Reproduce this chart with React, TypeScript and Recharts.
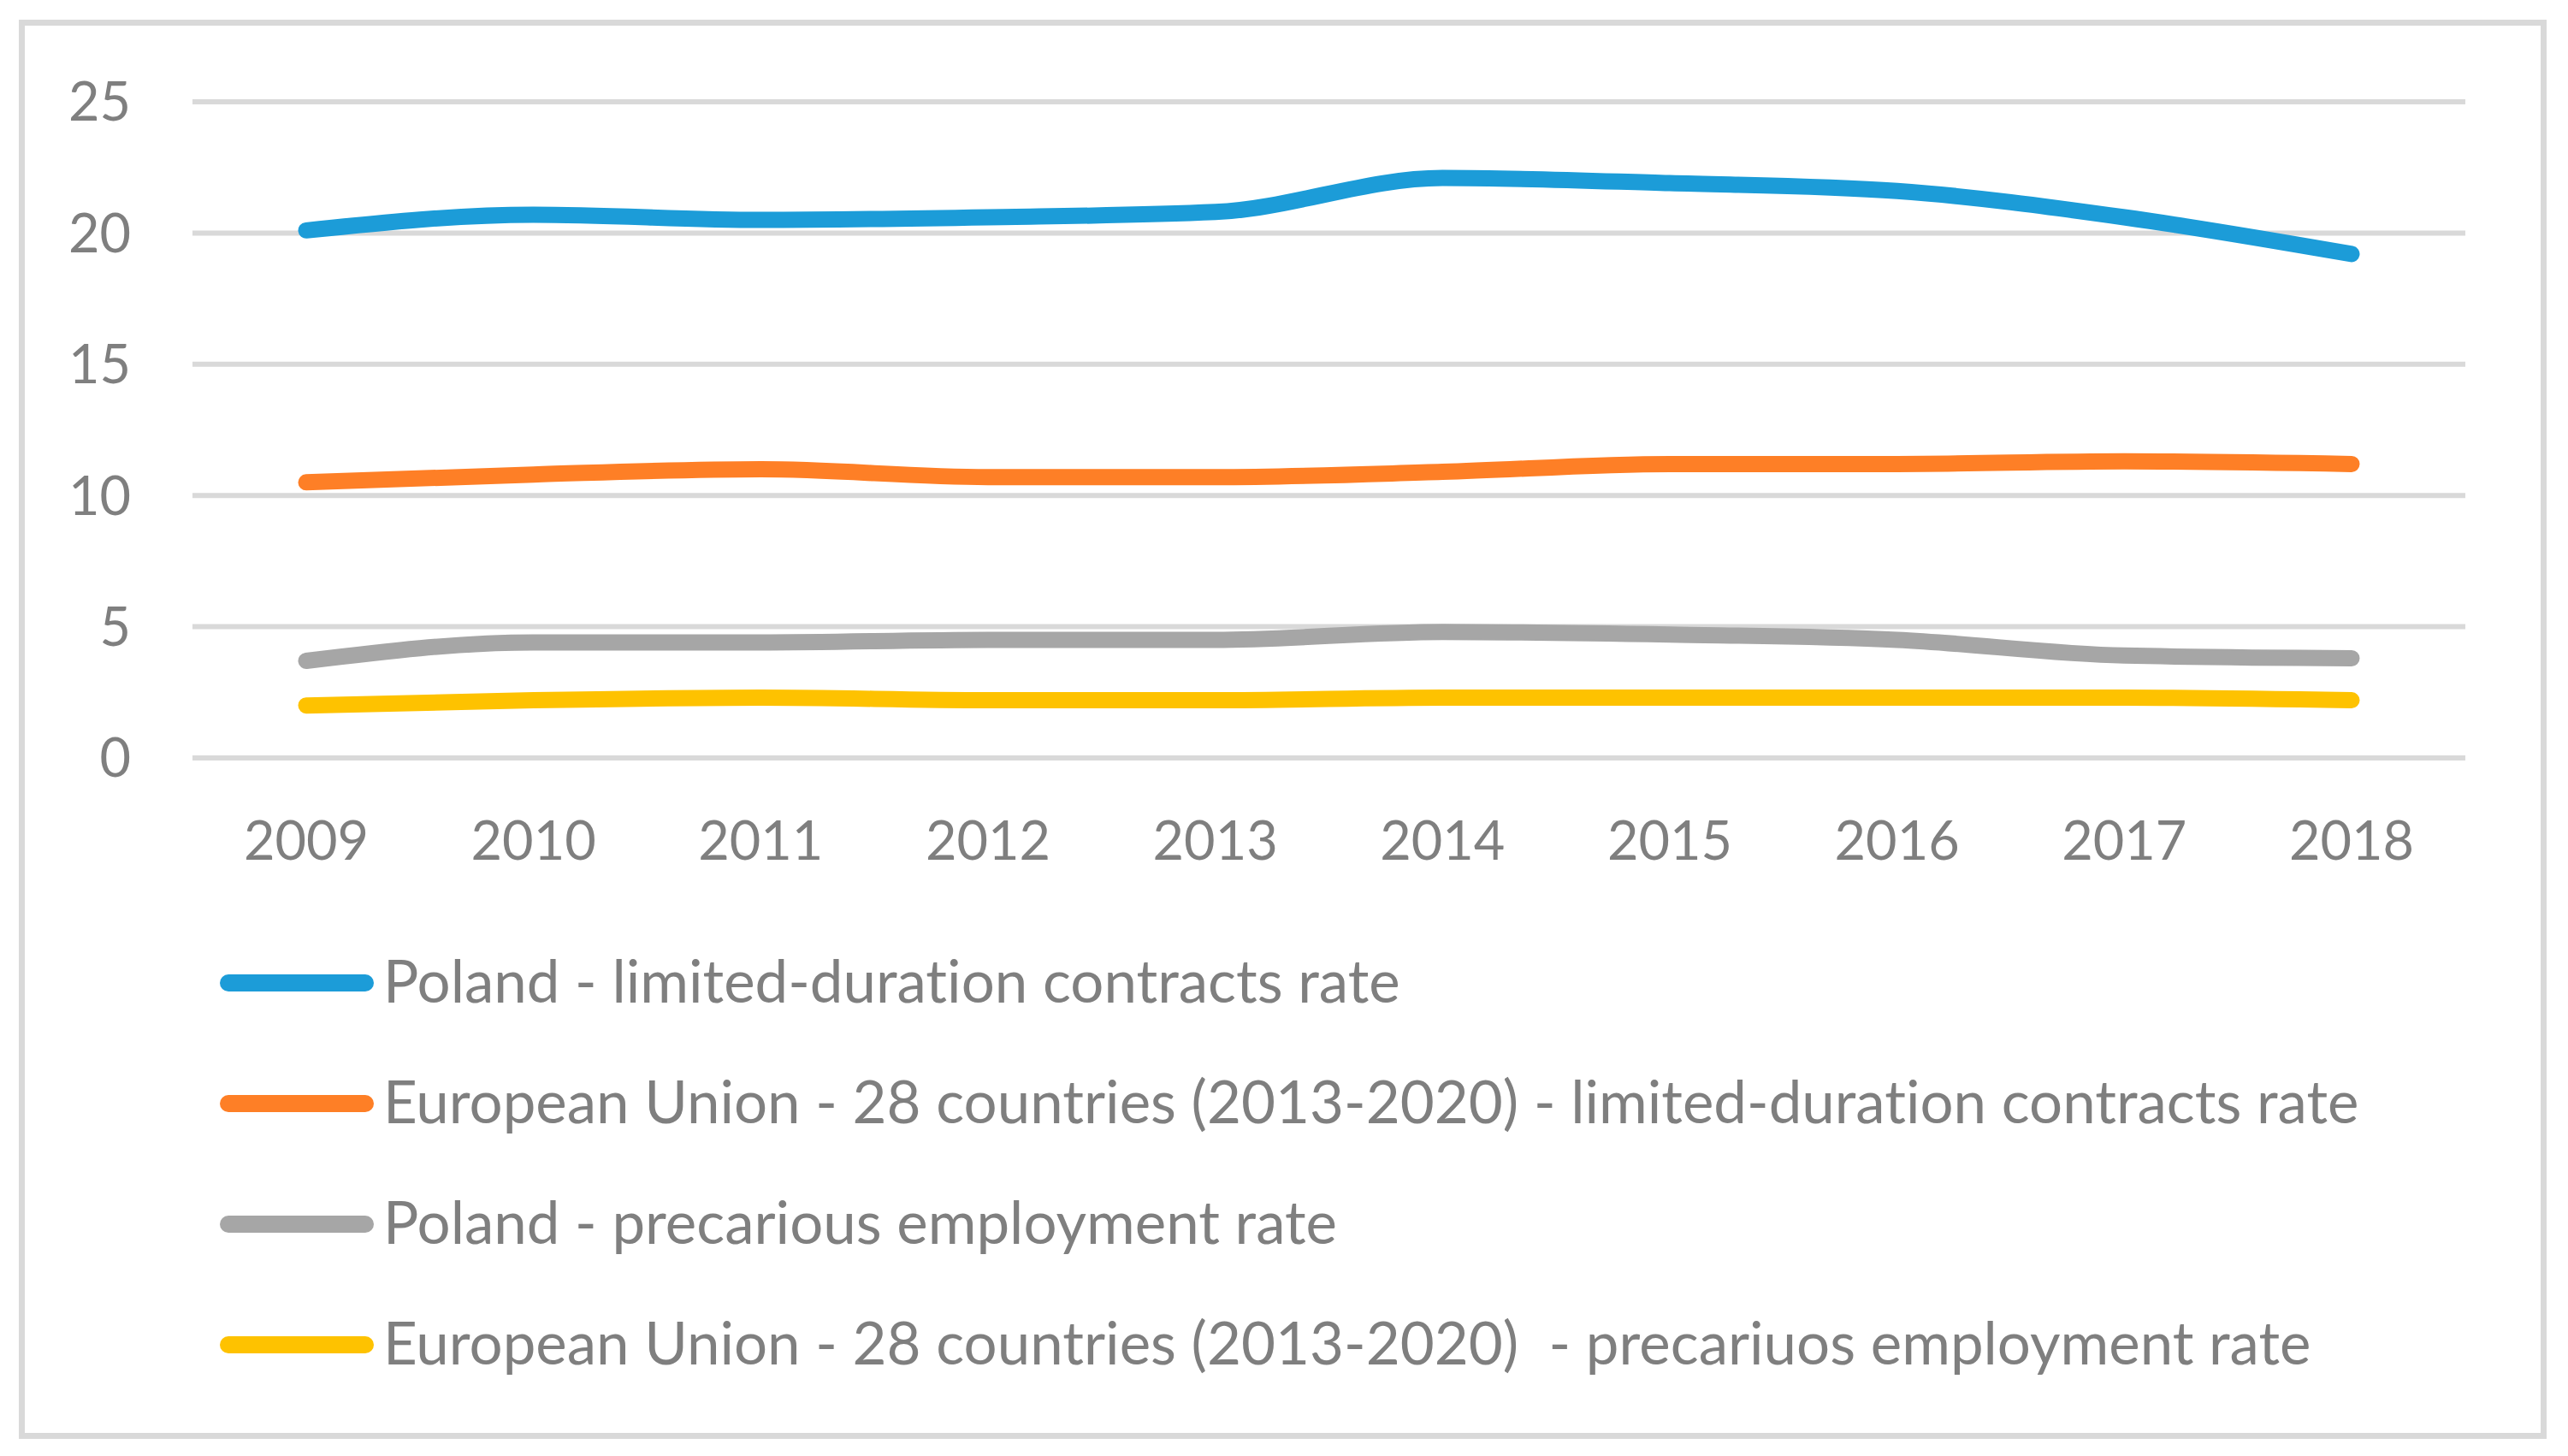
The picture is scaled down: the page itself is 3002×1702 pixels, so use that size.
import React from 'react';
import { LineChart, Line, XAxis, YAxis, CartesianGrid, Legend } from 'recharts';

const years = ['2009', '2010', '2011', '2012', '2013', '2014', '2015', '2016', '2017', '2018'];
const polandLimited = [20.1, 20.7, 20.5, 20.6, 20.8, 22.1, 21.9, 21.6, 20.6, 19.2];
const euLimited = [10.5, 10.8, 11.0, 10.7, 10.7, 10.9, 11.2, 11.2, 11.3, 11.2];
const polandPrecarious = [3.7, 4.4, 4.4, 4.5, 4.5, 4.8, 4.7, 4.5, 3.9, 3.8];
const euPrecarious = [2.0, 2.2, 2.3, 2.2, 2.2, 2.3, 2.3, 2.3, 2.3, 2.2];
const yTicks = [0, 5, 10, 15, 20, 25];

const seriesNames = [
  'Poland - limited-duration contracts rate',
  'European Union - 28 countries (2013-2020) - limited-duration contracts rate',
  'Poland - precarious employment rate',
  'European Union - 28 countries (2013-2020)  - precariuos employment rate',
];
const seriesKeys = ['pl', 'eu', 'plp', 'eup'];
const seriesColors = ['#1c9cd8', '#fe7f26', '#a6a6a6', '#fec200'];

const data = years.map((y, i) => ({
  year: y,
  pl: polandLimited[i],
  eu: euLimited[i],
  plp: polandPrecarious[i],
  eup: euPrecarious[i],
}));

const FONT = 'Lato, "Open Sans", sans-serif';
const TEXT = '#7f7f7f';

const renderLegend = () => (
  <div style={{ position: 'relative', width: 3002, height: 1702 }}>
    {seriesNames.map((name, i) => (
      <div
        key={name}
        style={{
          position: 'absolute',
          left: 257,
          top: 1149 + i * 141 - 40,
          height: 80,
          display: 'flex',
          alignItems: 'center',
          whiteSpace: 'pre',
        }}
      >
        <div style={{ width: 180, height: 20, borderRadius: 10, background: seriesColors[i], flex: 'none' }} />
        <span
          style={{
            marginLeft: 11,
            fontFamily: FONT,
            fontSize: 69,
            color: TEXT,
            lineHeight: '80px',
            fontVariantLigatures: 'none',
            position: 'relative',
            top: -3,
          }}
        >
          {name}
        </span>
      </div>
    ))}
  </div>
);

export default function App() {
  return (
    <div style={{ position: 'absolute', left: 0, top: 0, width: 3002, height: 1702, background: '#fff' }}>
      <div
        style={{
          position: 'absolute',
          left: 22,
          top: 23,
          width: 2955,
          height: 1659,
          border: '7px solid #d9d9d9',
          boxSizing: 'border-box',
        }}
      />
      <div style={{ position: 'absolute', left: 0, top: 0 }}>
        <LineChart
          width={3002}
          height={1702}
          data={data}
          margin={{ top: 119, right: 120, left: 0, bottom: 786 }}
        >
          <CartesianGrid vertical={false} stroke="#d9d9d9" strokeWidth={6} />
          <XAxis
            dataKey="year"
            height={30}
            axisLine={false}
            tickLine={false}
            tickSize={0}
            tickMargin={74}
            interval={0}
            padding={{ left: 133, right: 133 }}
            tick={{ fill: TEXT, fontSize: 63, fontFamily: FONT }}
          />
          <YAxis
            width={225}
            domain={[0, 25]}
            ticks={yTicks}
            axisLine={false}
            tickLine={false}
            tickSize={0}
            tickMargin={72}
            tick={{ fill: TEXT, fontSize: 63, fontFamily: FONT }}
          />
          {seriesKeys.map((k, i) => (
            <Line
              key={k}
              type="monotone"
              dataKey={k}
              name={seriesNames[i]}
              stroke={seriesColors[i]}
              strokeWidth={19}
              strokeLinecap="round"
              strokeLinejoin="round"
              dot={false}
              activeDot={false}
              isAnimationActive={false}
            />
          ))}
          <Legend
            layout="vertical"
            align="center"
            verticalAlign="middle"
            content={renderLegend}
            wrapperStyle={{ left: 0, top: 0, width: 3002, height: 1702, pointerEvents: 'none' }}
          />
        </LineChart>
      </div>
    </div>
  );
}
